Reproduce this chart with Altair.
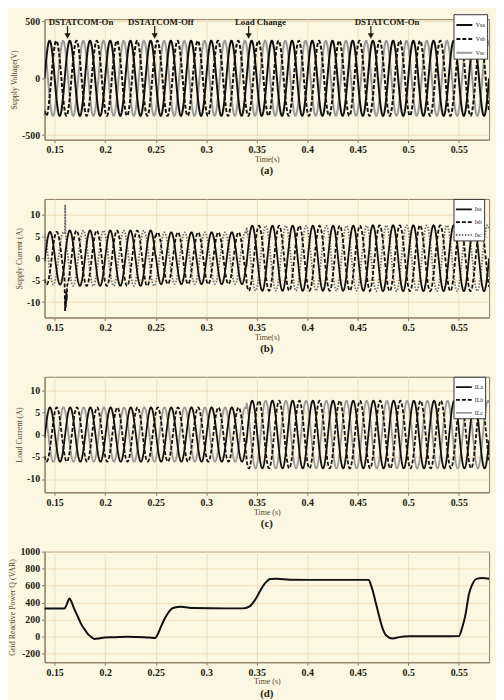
import numpy as np
import pandas as pd
import altair as alt

alt.data_transformers.disable_max_rows()

FONT = "Liberation Serif"
BG = "#fbf7e2"
FRAME = "#8c7a62"
GRID = "#f3dcbc"
INK = "#231a10"
TITLE_INK = "#5b4630"

# ---------------- data ----------------
T0, T1, DT = 0.14, 0.58, 0.00025
F_HZ = 50
X_TICKS = [0.15, 0.2, 0.25, 0.3, 0.35, 0.4, 0.45, 0.5, 0.55]
PHASE_DEG = [0, -120, 120]

# (a) supply voltage
V_NAMES = ["Vsa", "Vsb", "Vsc"]
V_EDGES = [0.14, 0.58]
V_AMP = [330]
V_LAG = [0]
V_TICKS = [-500, 0, 500]
ANN_TEXT = ["DSTATCOM-On", "DSTATCOM-Off", "Load Change", "DSTATCOM-On"]
ANN_TEXT_T = [0.1441, 0.2226, 0.3284, 0.4470]
ANN_ARROW_T = [0.1627, 0.2490, 0.3420, 0.4630]

# (b) supply current
IS_NAMES = ["Isa", "Isb", "Isc"]
IS_EDGES = [0.14, 0.1605, 0.25, 0.34, 0.462, 0.58]
IS_AMP = [6.0, 6.3, 5.9, 7.4, 7.5]
IS_LAG = [7, 0, 7, 10, 0]
SPIKE_NAME = ["Isc", "Isc", "Isc", "Isb", "Isb", "Isb", "Isb", "Isb", "Isb", "Isb"]
SPIKE_T = [0.1600, 0.1604, 0.1608, 0.1598, 0.1603, 0.1607, 0.1611, 0.1615, 0.1619, 0.1624]
SPIKE_V = [5.5, 12.2, 5.8, -4.7, -12.0, -9.0, -11.2, -7.6, -9.6, -6.0]
I_TICKS = [-10, -5, 0, 5, 10]

# (c) load current
IL_NAMES = ["ILa", "ILb", "ILc"]
IL_EDGES = [0.14, 0.34, 0.58]
IL_AMP = [6.1, 7.6]
IL_LAG = [7, 10]

# (d) grid reactive power
Q_T = [0.14, 0.1597, 0.1620, 0.1646, 0.1670, 0.1695, 0.1730, 0.1763, 0.1800, 0.1829,
       0.1860, 0.1894, 0.1940, 0.1992, 0.2100, 0.2221, 0.2388, 0.2483, 0.2500, 0.2525,
       0.2549, 0.2580, 0.2614, 0.2650, 0.2680, 0.2746, 0.2877, 0.3205, 0.3369, 0.3434,
       0.3470, 0.3500, 0.3530, 0.3565, 0.3600, 0.3631, 0.3697, 0.3828, 0.4025, 0.4608,
       0.4630, 0.4648, 0.4681, 0.4714, 0.4747, 0.4780, 0.4845, 0.4911, 0.5009, 0.5337,
       0.5501, 0.5534, 0.5567, 0.5600, 0.5633, 0.5682, 0.5731, 0.5800]
Q_V = [331, 331, 380, 448, 400, 324, 235, 148, 80, 31,
       0, -27, -20, -8, -5, 0, -5, -16, -10, 40,
       109, 190, 265, 320, 340, 351, 338, 333, 333, 359,
       410, 464, 530, 600, 650, 677, 681, 670, 668, 668,
       610, 542, 386, 231, 95, 17, -22, -5, 5, 5,
       7, 108, 263, 496, 613, 683, 690, 680]
Q_TICKS = [-200, 0, 200, 400, 600, 800, 1000]

# ---------------- build tables ----------------
t = np.round(np.arange(T0, T1 + DT / 2, DT), 5)


def three_phase(names, edges, amps, lags):
    seg = np.clip(np.searchsorted(edges, t, side="right") - 1, 0, len(amps) - 1)
    A = np.array(amps, dtype=float)[seg]
    L = np.deg2rad(np.array(lags, dtype=float)[seg])
    frames = []
    for name, ph in zip(names, PHASE_DEG):
        y = A * np.sin(2 * np.pi * F_HZ * t + np.deg2rad(ph) - L)
        frames.append(pd.DataFrame({"t": t, "v": np.round(y, 3), "s": name}))
    # draw grey first, black solid last
    return pd.concat(frames[::-1], ignore_index=True)


df_v = three_phase(V_NAMES, V_EDGES, V_AMP, V_LAG)
df_is = three_phase(IS_NAMES, IS_EDGES, IS_AMP, IS_LAG)
mask = df_is["s"].isin(["Isb", "Isc"]) & (df_is["t"] > 0.1597) & (df_is["t"] < 0.1625)
df_is = df_is[~mask]
df_is = pd.concat([df_is, pd.DataFrame({"t": SPIKE_T, "v": SPIKE_V, "s": SPIKE_NAME})],
                  ignore_index=True)
df_il = three_phase(IL_NAMES, IL_EDGES, IL_AMP, IL_LAG)
df_q = pd.DataFrame({"t": Q_T, "v": Q_V})
df_ann = pd.DataFrame({"label": ANN_TEXT, "tt": ANN_TEXT_T, "ta": ANN_ARROW_T})

W = 450


def xenc(title):
    return alt.X("t:Q", scale=alt.Scale(domain=[T0, T1], nice=False, zero=False),
                 axis=alt.Axis(values=X_TICKS, labelExpr="'' + datum.value", title=title))


def yenc(dom, ticks, title):
    return alt.Y("v:Q", scale=alt.Scale(domain=dom, nice=False, zero=False),
                 axis=alt.Axis(values=ticks, labelExpr="'' + datum.value", title=title))


def wave_panel(df, names, colors, dashes, widths, dom, ticks, ytitle, xtitle, h, legend_y):
    lg = alt.Legend(orient="none", legendX=W - 36, legendY=legend_y, title=None)
    return alt.Chart(df).mark_line(clip=True).encode(
        x=xenc(xtitle),
        y=yenc(dom, ticks, ytitle),
        color=alt.Color("s:N", scale=alt.Scale(domain=names, range=colors), legend=lg),
        strokeDash=alt.StrokeDash("s:N", scale=alt.Scale(domain=names, range=dashes), legend=lg),
        strokeWidth=alt.StrokeWidth("s:N", scale=alt.Scale(domain=names, range=widths), legend=lg),
    ).properties(width=W, height=h)


pa_lines = wave_panel(df_v, V_NAMES, ["#111111", "#111111", "#9a9a9a"],
                      [[1, 0], [4, 2], [1, 0]], [2.0, 2.0, 1.6],
                      [-540, 520], V_TICKS, "Supply Voltage(V)", "Time(s)", 122, -5)
ann_text = alt.Chart(df_ann).mark_text(align="left", baseline="middle", font=FONT,
                                        fontSize=9, fontWeight="bold", color=INK).encode(
    x=alt.X("tt:Q"), y=alt.value(3), text="label:N")
ann_rule = alt.Chart(df_ann).mark_rule(color=INK, strokeWidth=1.2).encode(
    x=alt.X("ta:Q"), y=alt.value(7), y2=alt.value(15))
ann_head = alt.Chart(df_ann).mark_point(shape="triangle-down", filled=True, size=40,
                                         color=INK, opacity=1).encode(
    x=alt.X("ta:Q"), y=alt.value(17))
panel_a = alt.layer(pa_lines, ann_rule, ann_head, ann_text).properties(
    title=alt.TitleParams("(a)", orient="bottom"))

panel_b = wave_panel(df_is, IS_NAMES, ["#111111", "#111111", "#6e6e6e"],
                     [[1, 0], [4, 2], [1.5, 1.5]], [1.8, 1.8, 1.6],
                     [-13.5, 13.5], I_TICKS, "Supply Current (A)", "Time(s)", 120, 0).properties(
    title=alt.TitleParams("(b)", orient="bottom"))

panel_c = wave_panel(df_il, IL_NAMES, ["#111111", "#111111", "#9a9a9a"],
                     [[1, 0], [4, 2], [1, 0]], [1.8, 1.8, 1.5],
                     [-13, 13], I_TICKS, "Load Current (A)", "Time (s)", 117, 0).properties(
    title=alt.TitleParams("(c)", orient="bottom"))

panel_d = alt.Chart(df_q).mark_line(color="#111111", strokeWidth=2, interpolate="monotone").encode(
    x=xenc("Time (s)"),
    y=yenc([-300, 1000], Q_TICKS, "Grid Reactive Power Q (VAR)"),
).properties(width=W, height=112, title=alt.TitleParams("(d)", orient="bottom"))

chart = alt.vconcat(panel_a, panel_b, panel_c, panel_d, spacing=60, bounds="flush").resolve_scale(
    color="independent", strokeDash="independent", strokeWidth="independent",
    x="independent", y="independent",
).resolve_legend(
    color="independent", strokeDash="independent", strokeWidth="independent",
).properties(
    background=BG, padding={"top": 1, "left": 0, "right": 2, "bottom": 2}
).configure_view(stroke=FRAME, strokeWidth=1, fill=BG).configure_axis(
    labelFont=FONT, labelFontSize=10, labelFontWeight="bold", labelColor=INK,
    titleFont=FONT, titleFontSize=8, titleFontWeight="normal", titleColor=TITLE_INK,
    domainColor=FRAME, tickColor=FRAME, tickSize=3, gridColor=GRID, gridOpacity=1,
    labelPadding=2, titlePadding=3,
).configure_axisX(titlePadding=1).configure_legend(
    labelFont=FONT, labelFontSize=6, labelColor=INK, strokeColor="#333333", fillColor="#ffffff",
    padding=1.5, rowPadding=0, symbolSize=260, symbolType="stroke", labelOffset=2, columnPadding=2,
).configure_title(font=FONT, fontSize=11, fontWeight="bold", color=INK, offset=2)

chart.save("out.html", embed_options={"renderer": "svg", "actions": False})
